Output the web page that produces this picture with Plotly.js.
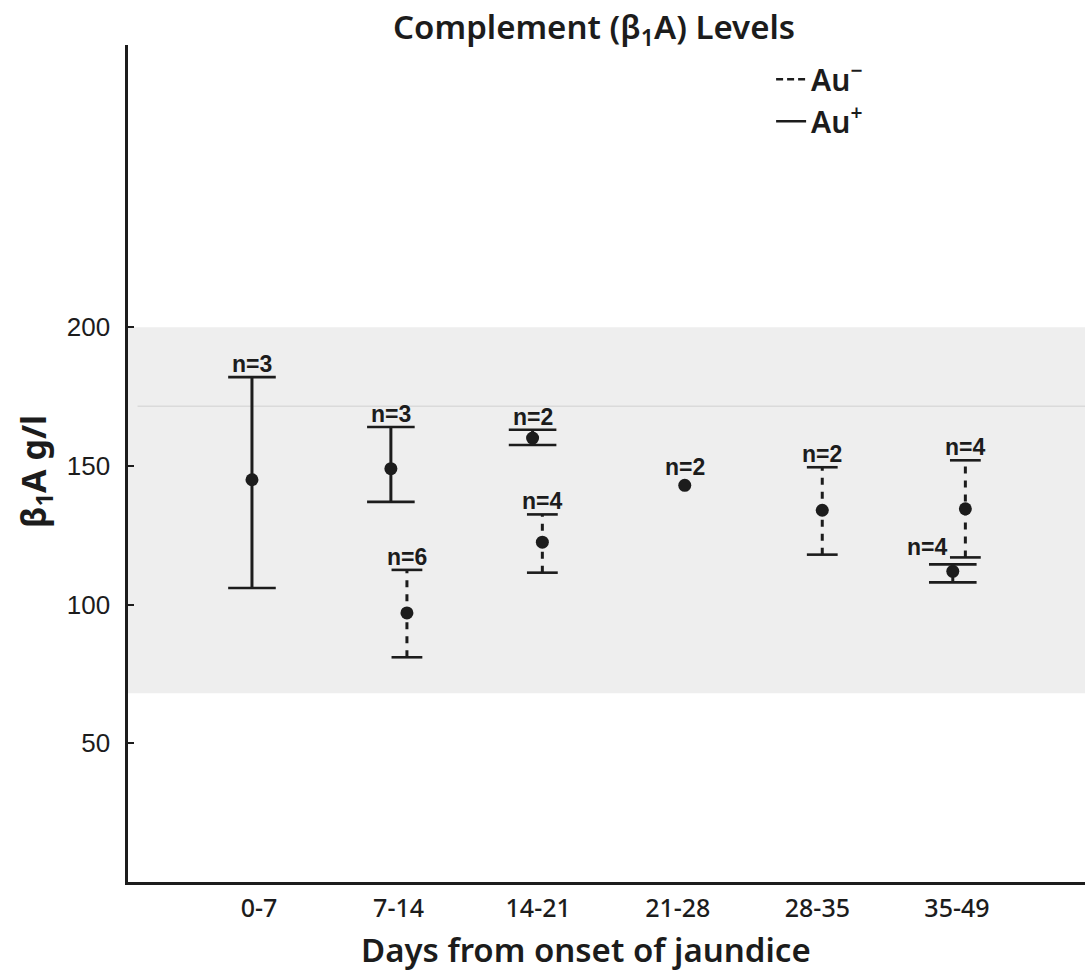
<!DOCTYPE html>
<html>
<head>
<meta charset="utf-8">
<script src="https://cdn.plot.ly/plotly-3.0.1.min.js"></script>
<style>
  html, body { margin: 0; padding: 0; background: #ffffff; }
  #chart { width: 1085px; height: 973px; }
</style>
</head>
<body>
<div id="chart"></div>
<script>
// Complement (β1A) levels by interval after onset of jaundice
const categories = ['0-7', '7-14', '14-21', '21-28', '28-35', '35-49'];

// Au+ patients: mean, upper and lower limits, number of patients
const plusMean = [145, 149, 160, null, null, 112];
const plusHigh = [182, 164, 163, null, null, 114.5];
const plusLow  = [106, 137, 157.5, null, null, 108];
const plusN    = [3, 3, 2, null, null, 4];

// Au- patients
const minusMean = [null, 97, 122.5, 143, 134, 134.5];
const minusHigh = [null, 112.5, 132.5, null, 149.5, 152];
const minusLow  = [null, 81, 111.5, null, 118, 117];
const minusN    = [null, 6, 4, 2, 2, 4];

// normal range shading and reference line (g/l)
const normalLow = 68;
const normalHigh = 200;
const normalMark = 171.5;

// small horizontal nudges so the two groups in one interval do not overlap
const plusNudge  = [-0.05, -0.055, -0.04, 0, 0, -0.03];
const minusNudge = [0, 0.06, 0.03, 0.05, 0.035, 0.06];
const plusLabelSide  = ['top', 'top', 'top', null, null, 'left'];
const minusLabelSide = [null, 'top', 'top', 'top', 'top', 'top'];

const ink = '#1c1c1c';

function buildGroup(mean, high, low, n, nudge, side, dash, capSize) {
  const stemX = [], stemY = [], capX = [], capY = [], ptX = [], ptY = [];
  const notes = [];
  mean.forEach((m, i) => {
    if (m === null) return;
    const x = i + nudge[i];
    ptX.push(x); ptY.push(m);
    if (high[i] !== null && low[i] !== null) {
      stemX.push(x, x, null); stemY.push(low[i], high[i], null);
      capX.push(x, x); capY.push(high[i], low[i]);
    }
    const top = high[i] !== null ? high[i] : m;
    const note = {
      x: x, y: top, xref: 'x', yref: 'y', showarrow: false,
      text: 'n=' + n[i],
      font: { family: 'Liberation Sans, Arial, sans-serif', size: 23, color: ink, weight: 'bold' }
    };
    if (side[i] === 'left') {
      Object.assign(note, { xanchor: 'right', yanchor: 'middle', xshift: -4, yshift: 17 });
    } else {
      Object.assign(note, { xanchor: 'center', yanchor: 'middle', yshift: high[i] !== null ? 13 : 18 });
    }
    notes.push(note);
  });
  const traces = [
    { type: 'scatter', mode: 'lines', x: stemX, y: stemY, showlegend: false, hoverinfo: 'skip',
      line: { color: ink, width: 3, dash: dash } },
    { type: 'scatter', mode: 'markers', x: capX, y: capY, showlegend: false, hoverinfo: 'skip',
      marker: { symbol: 'line-ew', size: capSize, line: { color: ink, width: 2.6 } } },
    { type: 'scatter', mode: 'markers', x: ptX, y: ptY, showlegend: false,
      marker: { symbol: 'circle', size: 13, color: ink } }
  ];
  return { traces, notes };
}

const plus = buildGroup(plusMean, plusHigh, plusLow, plusN, plusNudge, plusLabelSide, 'solid', 34);
const minus = buildGroup(minusMean, minusHigh, minusLow, minusN, minusNudge, minusLabelSide, '7px,7px', 22);

// legend-only entries
const legendTraces = [
  { type: 'scatter', mode: 'lines', x: [null], y: [null], name: 'Au<sup>−</sup>',
    line: { color: ink, width: 2.5, dash: '7px,4px' } },
  { type: 'scatter', mode: 'lines', x: [null], y: [null], name: 'Au<sup>+</sup>',
    line: { color: ink, width: 2.5 } }
];

const data = [...plus.traces, ...minus.traces, ...legendTraces];

const layout = {
  width: 1085,
  height: 973,
  margin: { l: 128, r: 0, t: 45, b: 91 },
  paper_bgcolor: '#ffffff',
  plot_bgcolor: '#ffffff',
  showlegend: true,
  legend: {
    x: 0.672, y: 0.99, xanchor: 'left', yanchor: 'top',
    bgcolor: 'rgba(0,0,0,0)', traceorder: 'normal',
    font: { family: 'Noto Sans, sans-serif', size: 30, color: ink, weight: 600 }
  },
  title: {
    text: 'Complement (β<sub>1</sub>A) Levels',
    x: 0.487, xanchor: 'center', xref: 'paper',
    y: 0.972, yanchor: 'middle', yref: 'container',
    font: { family: 'Noto Sans, sans-serif', size: 33, color: ink, weight: 600 }
  },
  xaxis: {
    range: [-0.938, 5.917],
    tickvals: [0, 1, 2, 3, 4, 5],
    ticktext: categories,
    showline: true, linewidth: 2.6, linecolor: ink,
    showgrid: false, zeroline: false, ticks: '',
    ticklabelstandoff: 2,
    tickfont: { family: 'Noto Sans, sans-serif', size: 25, color: ink, weight: 500 }
  },
  yaxis: {
    range: [0, 301.7],
    tickvals: [50, 100, 150, 200],
    showline: true, linewidth: 2.6, linecolor: ink,
    showgrid: false, zeroline: false,
    ticks: 'inside', ticklen: 6, tickwidth: 2, tickcolor: ink,
    ticklabelstandoff: 10,
    tickfont: { family: 'Liberation Sans, Arial, sans-serif', size: 26, color: ink }
  },
  shapes: [
    { type: 'rect', xref: 'paper', yref: 'y', x0: 0, x1: 1, y0: normalLow, y1: normalHigh,
      fillcolor: '#eeeeee', line: { width: 0 }, layer: 'below' },
    { type: 'line', xref: 'paper', yref: 'y', x0: 0.01, x1: 1, y0: normalMark, y1: normalMark,
      line: { color: '#dadada', width: 1.5 }, layer: 'below' }
  ],
  annotations: [
    ...plus.notes,
    ...minus.notes,
    { text: 'β<sub>1</sub>A g/l', xref: 'paper', yref: 'paper', x: -0.097, y: 0.49,
      xanchor: 'center', yanchor: 'middle', textangle: -90, showarrow: false,
      font: { family: 'Noto Sans, sans-serif', size: 34, color: ink, weight: 'bold' } },
    { text: 'Days from onset of jaundice', xref: 'paper', yref: 'paper', x: 0.4786, y: -0.081,
      xanchor: 'center', yanchor: 'middle', showarrow: false,
      font: { family: 'Noto Sans, sans-serif', size: 33, color: ink, weight: 600 } }
  ]
};

Plotly.newPlot('chart', data, layout, { displayModeBar: false, staticPlot: true });
</script>
</body>
</html>
